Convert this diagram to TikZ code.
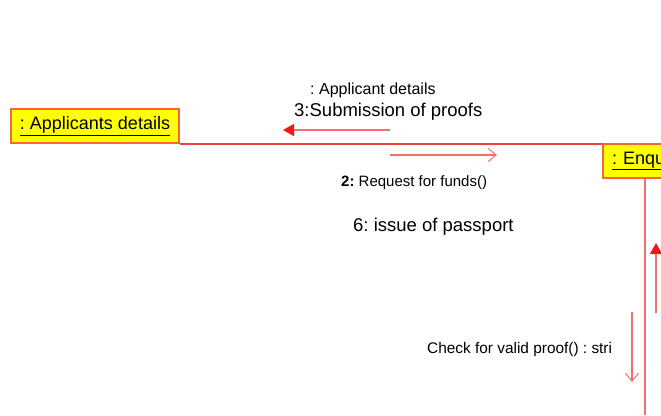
\documentclass[tikz,border=0pt]{standalone}
\usepackage{fontspec}
\setmainfont{Liberation Sans}
\frenchspacing
\usetikzlibrary{arrows.meta}
\definecolor{boxfill}{HTML}{FFFF00}
\definecolor{boxline}{HTML}{F2663A}
\definecolor{linkred}{HTML}{EE3F3F}
\definecolor{lightred}{HTML}{F07070}
\definecolor{headred}{HTML}{F01818}
\begin{document}
\begin{tikzpicture}[x=1pt,y=-1pt,
  objbox/.style={draw=boxline,fill=boxfill,line width=2pt,inner sep=0pt,font=\fontsize{18}{20}\selectfont},
  lbl/.style={anchor=west,inner sep=0pt,text=black},
  link/.style={draw=linkred,line width=2pt},
  lifeline/.style={draw=lightred,line width=1.6pt},
  solidmsg/.style={draw=lightred,line width=1.5pt,-{Triangle[length=11pt,width=12pt,fill=headred,color=headred]}},
  openmsg/.style={draw=lightred,line width=1.2pt,-{Straight Barb[length=8pt,width=13pt,line width=1pt]}}
]
\useasboundingbox (0,0) rectangle (661,415);
\clip (0,0) rectangle (661,415);
\fill[white] (0,0) rectangle (661,415);

% objects
\node[objbox,anchor=north west,minimum width=168pt,minimum height=34pt] (app) at (10,108) {\underline{: Applicants details}};
\node[objbox,anchor=north west,minimum height=34pt,text width=70pt,align=left,inner xsep=9pt] (enq) at (602,143) {\underline{: Enqu}};

% links
\draw[link] (app.south east) -- (app.south east -| enq.west);
\coordinate (lifeend) at (645,415);
\draw[lifeline] (enq.south -| lifeend) -- (lifeend);

% message arrows
\coordinate (m3s) at (390,130); \coordinate (m3e) at (283,130);
\draw[solidmsg] (m3s) -- (m3e);
\coordinate (m2s) at (390,155); \coordinate (m2e) at (497,155);
\draw[openmsg] (m2s) -- (m2e);
\coordinate (m6s) at (656,313); \coordinate (m6e) at (656,243);
\draw[solidmsg] (m6s) -- (m6e);
\coordinate (mcs) at (632,312); \coordinate (mce) at (632,382);
\draw[openmsg] (mcs) -- (mce);

% labels
\node[lbl,font=\fontsize{16}{18}\selectfont] (l1) at (310,90) {: Applicant details};
\node[lbl,font=\fontsize{18.5}{20}\selectfont] (l3) at (294,112) {3:Submission of proofs};
\node[lbl,font=\fontsize{15}{17}\selectfont] (l2) at (341,183) {\textbf{2:} Request for funds()};
\node[lbl,font=\fontsize{18.5}{20}\selectfont] (l6) at (353,227) {6: issue of passport};
\node[lbl,font=\fontsize{15.4}{17}\selectfont] (lc) at (427,350) {Check for valid proof() : stri};
\end{tikzpicture}
\end{document}
